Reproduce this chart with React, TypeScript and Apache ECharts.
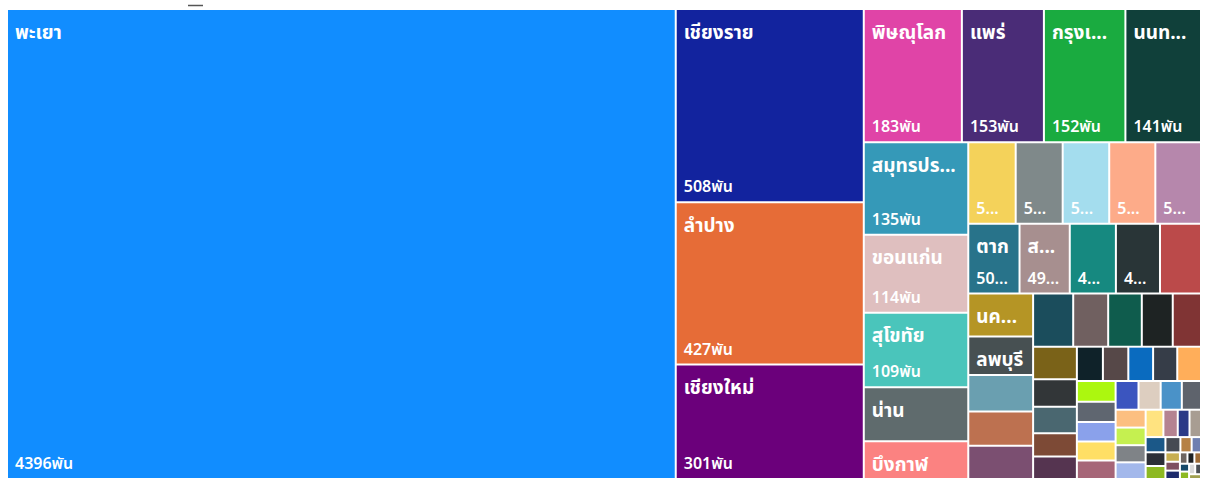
import React, { useEffect, useRef } from "react";
import * as echarts from "echarts";

// Province names (Thai), in descending order of value
const provinces: string[] = [
  "พะเยา", "เชียงราย", "ลำปาง", "เชียงใหม่", "พิษณุโลก", "แพร่", "กรุงเทพมหานคร", "นนทบุรี",
  "สมุทรปราการ", "ขอนแก่น", "สุโขทัย", "น่าน", "บึงกาฬ",
  "ลำพูน", "อุตรดิตถ์", "เพชรบูรณ์", "ชลบุรี", "อุดรธานี",
  "ตาก", "สงขลา", "ปทุมธานี", "อุบลราชธานี", "กำแพงเพชร",
  "นครสวรรค์", "ลพบุรี", "พิจิตร", "ระยอง", "อุทัยธานี",
  "นครราชสีมา", "ชัยภูมิ", "เลย", "สกลนคร", "ภูเก็ต",
  "นครปฐม", "สุราษฎร์ธานี", "หนองคาย", "ร้อยเอ็ด", "มหาสารคาม",
  "กาฬสินธุ์", "บุรีรัมย์", "สุรินทร์", "ศรีสะเกษ", "อ่างทอง",
  "สิงห์บุรี", "ชัยนาท", "สุพรรณบุรี", "กาญจนบุรี",
  "ราชบุรี", "เพชรบุรี", "ประจวบคีรีขันธ์", "นครศรีธรรมราช", "ตรัง",
  "พัทลุง", "สตูล", "ปัตตานี", "ยะลา",
  "นราธิวาส", "กระบี่", "พังงา", "ระนอง",
  "ชุมพร", "จันทบุรี", "ตราด", "ฉะเชิงเทรา", "ปราจีนบุรี", "สระแก้ว",
  "นครนายก", "สมุทรสาคร", "สมุทรสงคราม", "พระนครศรีอยุธยา", "แม่ฮ่องสอน", "หนองบัวลำภู",
  "อำนาจเจริญ", "ยโสธร", "มุกดาหาร", "นครพนม", "สระบุรี",
];

// Values in thousands (พัน)
const values: number[] = [
  4396, 508, 427, 301, 183, 153, 152, 141,
  135, 114, 109, 79, 55,
  54, 53.5, 53, 52.5, 52,
  50, 49, 45, 43, 40,
  39, 35, 33, 31, 30.2,
  29.8, 26, 25, 23, 21,
  20, 16.8, 16.2, 14.2, 13.8,
  12.5, 12.2, 11.9, 11.6, 11.4,
  11.2, 11, 10.6, 10.3,
  10, 9.2, 8.9, 8.5, 7.7,
  7.5, 7.4, 7.2, 7,
  6.8, 5.5, 4.5, 4.4,
  4.2, 3.8, 3.6, 3.2, 2.4, 2.0,
  1.9, 1.8, 1.7, 1.2, 1.1, 1.05,
  1.0, 0.95, 0.9, 0.85, 0.8,
];

const colors: string[] = [
  "#118DFF", "#12239E", "#E66C37", "#6B007B", "#E044A7", "#4A2C77", "#1AAB40", "#10403A",
  "#3599B8", "#DFBFBF", "#4AC5BB", "#5F6B6D", "#FB8281",
  "#F4D25A", "#7F898A", "#A4DDEE", "#FDAB89", "#B687AC",
  "#28738A", "#A78F8F", "#168980", "#293537", "#BB4A4A",
  "#B59525", "#475052", "#6A9FB0", "#BD7150", "#7B4F71",
  "#1B4D5C", "#706060", "#0F5C4D", "#1E2323", "#803434",
  "#7A6218", "#323638", "#4A6770", "#7D4A36", "#553450",
  "#0F2229", "#564848", "#0A6BBF", "#363D48", "#FFAE5A",
  "#ACF70F", "#5F6670", "#8AA1EB", "#FFDF65",
  "#A66678", "#3B55BF", "#DDCEC0", "#4A92C8", "#5E636C",
  "#FCBF80", "#C5F050", "#7F8387", "#A3B8EB",
  "#FFE380", "#B58391", "#2B3A87", "#A89D92",
  "#1B5888", "#2C2F37", "#8DB922", "#464A53", "#B68145", "#6F7FB0",
  "#C7AE50", "#7E4F60", "#1D2A6B", "#6E6560", "#1E2124", "#9E6B36",
  "#174A6A", "#8DB922", "#D9D9D9", "#4A4F55", "#A0A050",
];

const UNIT = "พัน";
const FONT_FAMILY = '"Segoe UI", "Noto Sans Thai", "Noto Sans", "DejaVu Sans", sans-serif';
const NAME_SIZE = 19;
const NAME_WEIGHT = "bold";
const VALUE_SIZE = 16;
const VALUE_WEIGHT = 600;
const PAD_X = 7;

let measureCtx: CanvasRenderingContext2D | null = null;
function textWidth(text: string, size: number, weight: string | number): number {
  if (!measureCtx) measureCtx = document.createElement("canvas").getContext("2d");
  if (!measureCtx) return text.length * size * 0.6;
  measureCtx.font = `normal ${weight} ${size}px ${FONT_FAMILY}`;
  return measureCtx.measureText(text).width;
}

// Fit text into a width: full text, or truncated with "...", or nothing.
function fitText(text: string, maxW: number, size: number, weight: string | number): string {
  if (textWidth(text, size, weight) <= maxW) return text;
  const chars = Array.from(text);
  for (let n = chars.length - 1; n >= 1; n--) {
    const t = chars.slice(0, n).join("") + "...";
    if (textWidth(t, size, weight) <= maxW) return t;
  }
  return "";
}

export default function App() {
  const ref = useRef<HTMLDivElement>(null);

  useEffect(() => {
    if (!ref.current) return;
    const chart = echarts.init(ref.current, null, { renderer: "svg" });

    const common: any = {
      type: "treemap",
      left: 8,
      top: 10,
      width: 1192,
      height: 468,
      roam: false,
      nodeClick: false,
      sort: "desc",
      breadcrumb: { show: false },
      levels: [{ itemStyle: { borderWidth: 0, gapWidth: 2 } }],
      emphasis: { disabled: true },
    };

    const nameLabel: any = {
      show: true,
      position: "insideTopLeft",
      color: "#fff",
      fontSize: NAME_SIZE,
      fontWeight: NAME_WEIGHT,
      fontFamily: FONT_FAMILY,
      lineHeight: 22,
      padding: [12, 0, 0, PAD_X],
      overflow: "none",
    };
    const valueLabel: any = {
      show: true,
      position: "insideBottomLeft",
      color: "#fff",
      fontSize: VALUE_SIZE,
      fontWeight: VALUE_WEIGHT,
      fontFamily: FONT_FAMILY,
      lineHeight: 20,
      padding: [0, 0, 4, PAD_X],
      overflow: "none",
    };

    const build = (sizes: Map<string, { w: number; h: number }> | null) => {
      const tiles = provinces.map((name, i) => {
        const s = sizes ? sizes.get(name) : null;
        let text = "";
        if (s && s.h >= 35) {
          const avail = s.w - 2 * PAD_X - 1;
          text = fitText(name, avail, NAME_SIZE, NAME_WEIGHT);
          if (text !== name && s.w < 46) text = "";
        }
        return {
          name,
          value: values[i],
          itemStyle: { color: colors[i] },
          label: { show: text !== "", formatter: text },
        };
      });
      const ghosts = provinces.map((name, i) => {
        const s = sizes ? sizes.get(name) : null;
        const full = `${values[i]}${UNIT}`;
        let text = "";
        if (s && s.h >= 58) {
          const avail = s.w - 2 * PAD_X - 1;
          text = fitText(full, avail, VALUE_SIZE, VALUE_WEIGHT);
          if (text !== full && s.w < 42) text = "";
        }
        return {
          name,
          value: values[i],
          itemStyle: { color: "rgba(0,0,0,0)" },
          label: { show: text !== "", formatter: text },
        };
      });
      return {
        animation: false,
        graphic: [
          {
            type: "line",
            shape: { x1: 188, y1: 5.5, x2: 203, y2: 5.5 },
            style: { stroke: "#555", lineWidth: 1.5 },
          },
        ],
        series: [
          { ...common, data: tiles, itemStyle: { borderWidth: 0, gapWidth: 2 }, label: nameLabel },
          { ...common, data: ghosts, silent: true, itemStyle: { borderWidth: 0, gapWidth: 2 }, label: valueLabel },
        ],
      };
    };

    // First pass: let ECharts lay out the tiles.
    chart.setOption(build(null));
    // Read the library's computed tile sizes to decide which labels fit.
    const sizes = new Map<string, { w: number; h: number }>();
    try {
      const seriesModel = (chart as any).getModel().getSeriesByIndex(0);
      const data = seriesModel.getData();
      for (let i = 0; i < data.count(); i++) {
        const l = data.getItemLayout(i);
        if (l) sizes.set(data.getName(i), { w: l.width, h: l.height });
      }
    } catch (e) {
      // ignore
    }
    chart.setOption(build(sizes));

    return () => chart.dispose();
  }, []);

  return (
    <div
      ref={ref}
      style={{ position: "absolute", left: 0, top: 0, width: 1208, height: 482 }}
    />
  );
}
